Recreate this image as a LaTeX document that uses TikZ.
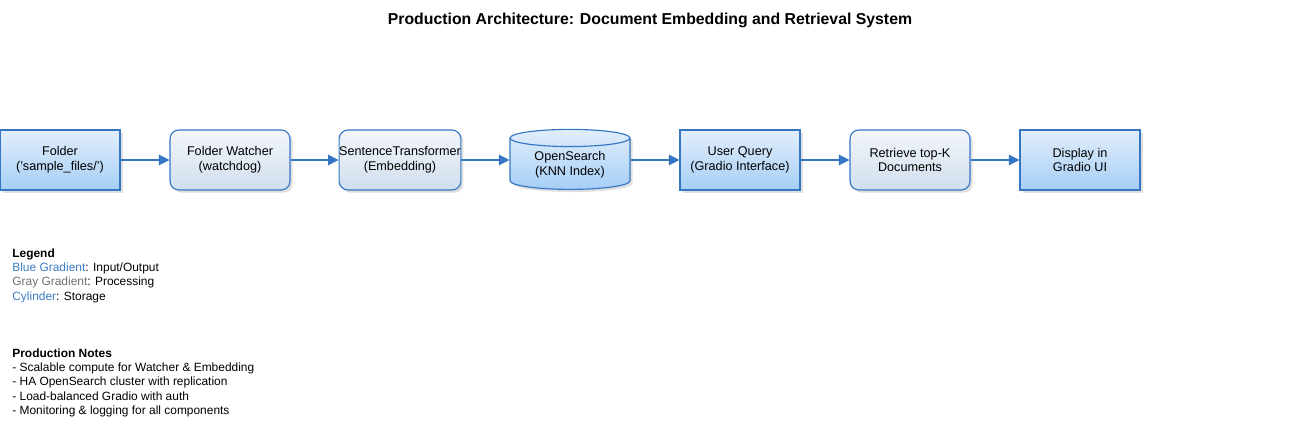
\documentclass[tikz,border=0pt]{standalone}
\usepackage{fontspec}
\setmainfont{Liberation Sans}
\usepackage{tikz}
\usepackage{xcolor}
\usetikzlibrary{positioning,arrows.meta,shapes,shadows}

\definecolor{linecol}{RGB}{52,118,196}
\definecolor{blueTop}{RGB}{226,238,251}
\definecolor{blueBot}{RGB}{166,206,246}
\definecolor{grayTop}{RGB}{243,246,250}
\definecolor{grayBot}{RGB}{208,222,238}
\definecolor{legblue}{RGB}{58,124,196}
\definecolor{leggray}{RGB}{110,110,110}

\tikzset{
  boxfont/.style={font=\fontsize{7.2}{8.5}\selectfont},
  iobox/.style={rectangle, draw=linecol, line width=0.65pt, top color=blueTop, bottom color=blueBot, minimum width=2.4cm, minimum height=1.2cm, align=center, boxfont, drop shadow={opacity=0.25, shadow xshift=1.5pt, shadow yshift=-1.5pt}},
  procbox/.style={rectangle, rounded corners=5pt, draw=linecol, line width=0.65pt, top color=grayTop, bottom color=grayBot, minimum width=2.4cm, minimum height=1.2cm, align=center, boxfont, drop shadow={opacity=0.25, shadow xshift=1.5pt, shadow yshift=-1.5pt}},
  storebox/.style={cylinder, shape border rotate=90, aspect=0.23, inner sep=1pt, draw=linecol, line width=0.65pt, top color=blueTop, bottom color=blueBot, minimum width=2.4cm, minimum height=1.2cm, align=center, boxfont, drop shadow={opacity=0.25, shadow xshift=1.5pt, shadow yshift=-1.5pt}},
  flow/.style={-{Triangle[length=6pt,width=6pt]}, draw=linecol, line width=0.75pt},
  legtext/.style={anchor=north west, align=left, inner sep=0pt, font=\fontsize{6.8}{8.2}\selectfont}
}

\begin{document}
\begin{tikzpicture}[x=0.02cm, y=-0.02cm]
    \useasboundingbox (0,0) rectangle (1312,442);
    \node[font=\bfseries\fontsize{9}{11}\selectfont] (title) at (650, 20) {Production Architecture: Document Embedding and Retrieval System};

    % pipeline
    \node[iobox] (folder) at (60, 160) {Folder\\('sample\_files/')};
    \node[procbox] (watcher) at (230, 160) {Folder Watcher\\(watchdog)};
    \node[procbox] (embed) at (400, 160) {\makebox[2.2cm]{SentenceTransformer}\\(Embedding)};
    \node[storebox] (search) at (570, 165) {OpenSearch\\(KNN Index)};
    \node[iobox] (query) at (740, 160) {User Query\\(Gradio Interface)};
    \node[procbox] (retrieve) at (910, 160) {Retrieve top-K\\Documents};
    \node[iobox] (display) at (1080, 160) {Display in\\Gradio UI};

    \foreach \a/\b in {folder/watcher, watcher/embed, query/retrieve, retrieve/display} {
        \draw[flow] (\a) -- (\b);
    }
    \draw[flow] (embed.east) -- (embed.east -| search.west);
    \draw[flow] (search.east |- query.west) -- (query.west);

    % legend and notes
    \node[legtext] (legend) at (12, 248) {\textbf{Legend}\\
        \textcolor{legblue}{Blue Gradient}: Input/Output\\
        \textcolor{leggray}{Gray Gradient}: Processing\\
        \textcolor{legblue}{Cylinder}: Storage};
    \node[legtext] (notes) at (12, 348) {\textbf{Production Notes}\\
        - Scalable compute for Watcher \& Embedding\\
        - HA OpenSearch cluster with replication\\
        - Load-balanced Gradio with auth\\
        - Monitoring \& logging for all components};
\end{tikzpicture}
\end{document}
